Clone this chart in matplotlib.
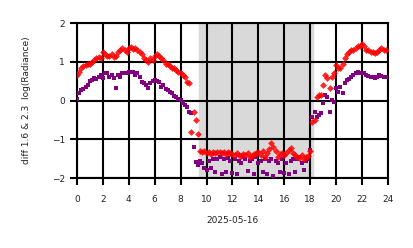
import numpy as np
import matplotlib
matplotlib.use("Agg")
import matplotlib.pyplot as plt

# hours of the day, 10-minute samples
hours = np.arange(144) / 6.0

red_vals = [
    0.65, 0.75, 0.85, 0.90, 0.92, 0.95,
    0.95, 1.00, 1.05, 1.10, 1.12, 1.10,
    1.25, 1.20, 1.15, 1.15, 1.20, 1.12,
    1.15, 1.25, 1.30, 1.35, 1.30, 1.25,
    1.35, 1.38, 1.32, 1.35, 1.30, 1.25,
    1.20, 1.10, 1.05, 1.00, 1.10, 1.05,
    1.15, 1.20, 1.15, 1.10, 1.05, 0.95,
    0.95, 0.90, 0.85, 0.85, 0.80, 0.75,
    0.72, 0.65, 0.60, 0.47, 0.45, -0.82,
    -0.30, -0.50, -0.85, -1.30, -1.33, -1.30,
    -1.35, -1.32, -1.38, -1.33, -1.36, -1.34,
    -1.33, -1.36, -1.32, -1.38, -1.34, -1.36,
    -1.38, -1.40, -1.35, -1.40, -1.42, -1.38,
    -1.40, -1.35, -1.45, -1.42, -1.38, -1.36,
    -1.33, -1.40, -1.30, -1.45, -1.35, -1.25,
    -1.10, -1.20, -1.30, -1.45, -1.38, -1.35,
    -1.40, -1.35, -1.28, -1.22, -1.35, -1.40,
    -1.45, -1.48, -1.40, -1.50, -1.45, -1.42,
    -1.30, -0.55, -0.50, 0.10, 0.15, 0.14,
    0.40, 0.66, 0.58, 0.32, 0.60, 0.70,
    0.92, 0.85, 0.84, 0.95, 1.10, 1.20,
    1.25, 1.30, 1.30, 1.35, 1.40, 1.42,
    1.45, 1.40, 1.30, 1.30, 1.25, 1.25,
    1.22, 1.25, 1.30, 1.35, 1.30, 1.30,
]

purple_vals = [
    0.05, 0.20, 0.27, 0.30, 0.35, 0.40,
    0.50, 0.53, 0.58, 0.55, 0.60, 0.66,
    0.58, 0.70, 0.71, 0.60, 0.65, 0.58,
    0.32, 0.66, 0.62, 0.71, 0.72, 0.70,
    0.74, 0.75, 0.74, 0.66, 0.70, 0.60,
    0.48, 0.45, 0.40, 0.32, 0.45, 0.50,
    0.53, 0.50, 0.48, 0.35, 0.40, 0.30,
    0.27, 0.22, 0.19, 0.12, 0.09, 0.05,
    0.01, -0.06, -0.12, -0.17, -0.30, -0.33,
    -1.20, -1.58, -1.66, -1.55, -1.60, -1.75,
    -1.80, -1.55, -1.75, -1.52, -1.85, -1.50,
    -1.46, -1.90, -1.50, -1.85, -1.48, -1.55,
    -1.88, -1.50, -1.90, -1.55, -1.60, -1.45,
    -1.50, -1.82, -1.55, -1.50, -1.90, -1.45,
    -1.60, -1.55, -1.85, -1.50, -1.90, -1.55,
    -1.50, -1.95, -1.55, -1.60, -1.85, -1.50,
    -1.88, -1.60, -1.90, -1.55, -1.50, -1.85,
    -1.52, -1.45, -1.60, -1.80, -1.55, -1.50,
    -1.28, -0.42, -0.30, -0.42, -0.37, -0.33,
    -0.07, 0.14, 0.09, -0.30, 0.01, -0.04,
    0.32, 0.22, 0.35, 0.19, 0.45, 0.53,
    0.55, 0.60, 0.65, 0.71, 0.74, 0.72,
    0.71, 0.70, 0.66, 0.64, 0.62, 0.60,
    0.58, 0.62, 0.66, 0.63, 0.60, 0.62,
]

night_start, night_end = 9.4, 18.2
xticks = list(range(0, 25, 2))
yticks = [-2, -1, 0, 1, 2]

fig = plt.figure(figsize=(4.14, 2.48), dpi=100)
ax = fig.add_axes([0.186, 0.282, 0.751, 0.625])

ax.axvspan(night_start, night_end, color="#d9d9d9", zorder=0)
ax.grid(True, color="black", linewidth=1.5, zorder=1)
ax.set_axisbelow(True)

ax.scatter(hours, purple_vals, marker="s", s=7, color="purple", linewidths=0, zorder=3)
ax.scatter(hours, red_vals, marker="D", s=12, color="red", alpha=0.85, linewidths=0, zorder=4)

ax.set_xlim(0, 24)
ax.set_ylim(-2, 2)
ax.set_xticks(xticks)
ax.set_yticks(yticks)
ax.tick_params(axis="both", labelsize=6.5, length=5, width=1.5, colors="black", labelcolor="#222222")
ax.tick_params(axis="x", pad=7)
for sp in ax.spines.values():
    sp.set_linewidth(1.5)
ax.set_xlabel("2025-05-16", fontsize=6.5, color="#222222", labelpad=9)
ax.set_ylabel("diff 1.6 & 2.3  log(Radiance)", fontsize=6.5, color="#222222", labelpad=15)

fig.savefig("out.png", dpi=100)
